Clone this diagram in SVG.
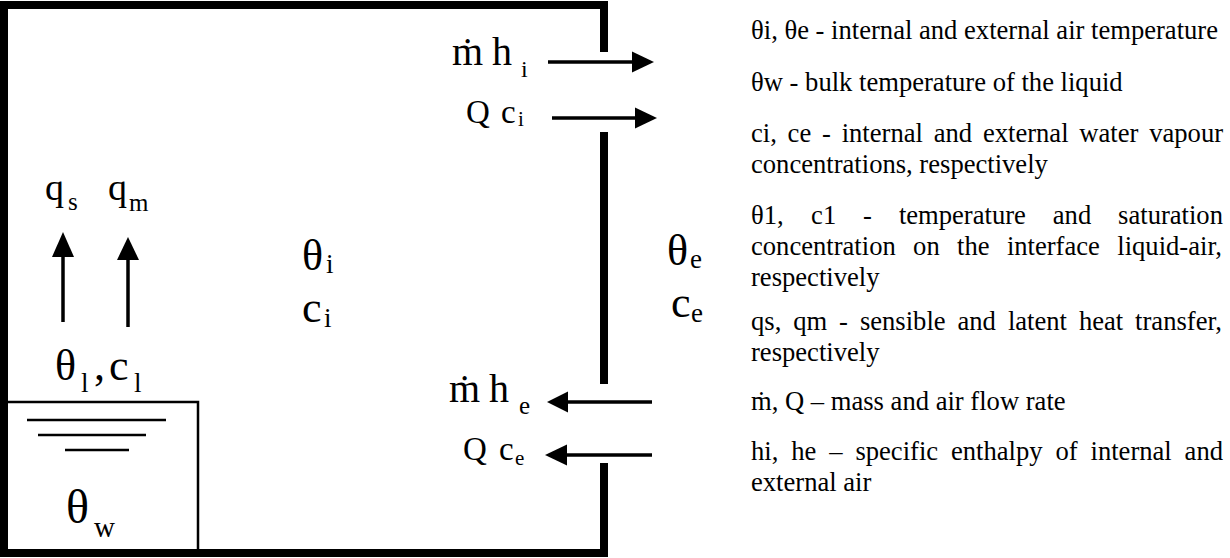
<svg xmlns="http://www.w3.org/2000/svg" width="1230" height="558" viewBox="0 0 1230 558">
<style>
text{font-family:"Liberation Serif","Times New Roman",serif;fill:#000}
.lg{font-size:26.6px}
.big{font-size:40px}
.mid{font-size:33px}
.sym{font-size:44px}
.sub{font-size:22px}
.sub2{font-size:27px}
.wall{fill:none;stroke:#000;stroke-width:8;stroke-linejoin:miter;stroke-linecap:butt}
.thin{fill:none;stroke:#000;stroke-width:2.5}
.flow{fill:none;stroke:#000;stroke-width:3.5}
.head{fill:#000}
</style>
<g id="room">
<path class="wall" d="M604,52 V5 H4 V553 H604 V463"/>
<path class="wall" d="M604,132 V384"/>
</g>
<g id="liquid">
<path class="thin" d="M7,402 H198 V550"/>
<path class="thin" d="M27,420 H166 M38,435 H146 M65,450 H129"/>
<text class="sym" x="66" y="523" style="font-size:48px">θ</text><text class="sub2" x="94" y="537" style="font-size:29px">w</text>
</g>
<g id="interface">
<text class="sym" x="55" y="380">θ</text><text class="sub2" x="81" y="392">l</text><text class="sym" x="94" y="380">,</text><text class="sym" x="109" y="380">c</text><text class="sub2" x="134" y="392">l</text>
</g>
<g id="internal">
<text class="sym" x="302" y="270">θ</text><text class="sub2" x="326" y="273">i</text>
<text class="sym" x="302" y="322">c</text><text class="sub2" x="324" y="327">i</text>
</g>
<g id="external">
<text class="sym" x="667" y="265">θ</text><text class="sub2" x="690" y="268">e</text>
<text class="sym" x="671" y="317">c</text><text class="sub2" x="691" y="322">e</text>
</g>
<g id="heat-labels">
<text class="sym" x="45" y="200" style="font-size:38px">q</text><text class="sub" x="68" y="210" style="font-size:25px">s</text>
<text class="sym" x="108" y="200" style="font-size:38px">q</text><text class="sub" x="129" y="211" style="font-size:25px">m</text>
</g>
<g id="flow-labels">
<text class="big" x="452" y="65">ṁ</text><text class="big" x="492" y="65">h</text><text class="sub" x="521" y="77" style="font-size:24px">i</text>
<text class="mid" x="466" y="123">Q</text><text class="mid" x="501" y="123">c</text><text class="sub" x="518" y="126" style="font-size:21px">i</text>
<text class="big" x="449" y="402">ṁ</text><text class="big" x="489" y="402">h</text><text class="sub" x="519" y="414" style="font-size:25px">e</text>
<text class="mid" x="463" y="460">Q</text><text class="mid" x="499" y="460">c</text><text class="sub" x="515" y="465" style="font-size:21px">e</text>
</g>
<g id="connectors">
<path class="flow" d="M548,62 H634"/><path class="head" d="M632,51.5 L654,62 L632,72.5 Z"/>
<path class="flow" d="M552,118 H638"/><path class="head" d="M635,107.5 L657,118 L635,128.5 Z"/>
<path class="flow" d="M652,402 H566"/><path class="head" d="M568,391.5 L547,402 L568,412.5 Z"/>
<path class="flow" d="M652,455 H565"/><path class="head" d="M567,444.5 L545,455 L567,465.5 Z"/>
<path class="flow" d="M63,322 V255"/><path class="head" d="M52,257 L63,232 L74,257 Z"/>
<path class="flow" d="M128,327 V258"/><path class="head" d="M117,260 L128,237 L139,260 Z"/>
</g>
<g id="legend">
<text class="lg" x="751" y="39">θi, θe - internal and external air temperature</text>
<text class="lg" x="751" y="91">θw - bulk temperature of the liquid</text>
<text class="lg" y="142"><tspan x="751">ci,</tspan><tspan x="787.6">ce</tspan><tspan x="822">-</tspan><tspan x="841.7">internal</tspan><tspan x="933.7">and</tspan><tspan x="982.9">external</tspan><tspan x="1079.3">water</tspan><tspan x="1149.2">vapour</tspan></text>
<text class="lg" x="751" y="173">concentrations, respectively</text>
<text class="lg" y="224"><tspan x="751">θ1,</tspan><tspan x="811.1">c1</tspan><tspan x="863.1">-</tspan><tspan x="898.9">temperature</tspan><tspan x="1052.8">and</tspan><tspan x="1118.1">saturation</tspan></text>
<text class="lg" y="255"><tspan x="751">concentration</tspan><tspan x="913.1">on</tspan><tspan x="957.1">the</tspan><tspan x="1006.9">interface</tspan><tspan x="1117.3">liquid-air,</tspan></text>
<text class="lg" x="751" y="286">respectively</text>
<text class="lg" y="330"><tspan x="751">qs,</tspan><tspan x="793.2">qm</tspan><tspan x="839.1">-</tspan><tspan x="859.9">sensible</tspan><tspan x="957.5">and</tspan><tspan x="1007.9">latent</tspan><tspan x="1078.9">heat</tspan><tspan x="1135.1">transfer,</tspan></text>
<text class="lg" x="751" y="361">respectively</text>
<text class="lg" x="751" y="410">ṁ, Q – mass and air flow rate</text>
<text class="lg" y="460"><tspan x="751">hi,</tspan><tspan x="791.2">he</tspan><tspan x="829.2">–</tspan><tspan x="855.4">specific</tspan><tspan x="951">enthalpy</tspan><tspan x="1055.4">of</tspan><tspan x="1090.5">internal</tspan><tspan x="1184.6">and</tspan></text>
<text class="lg" x="751" y="491">external air</text>
</g>
</svg>
